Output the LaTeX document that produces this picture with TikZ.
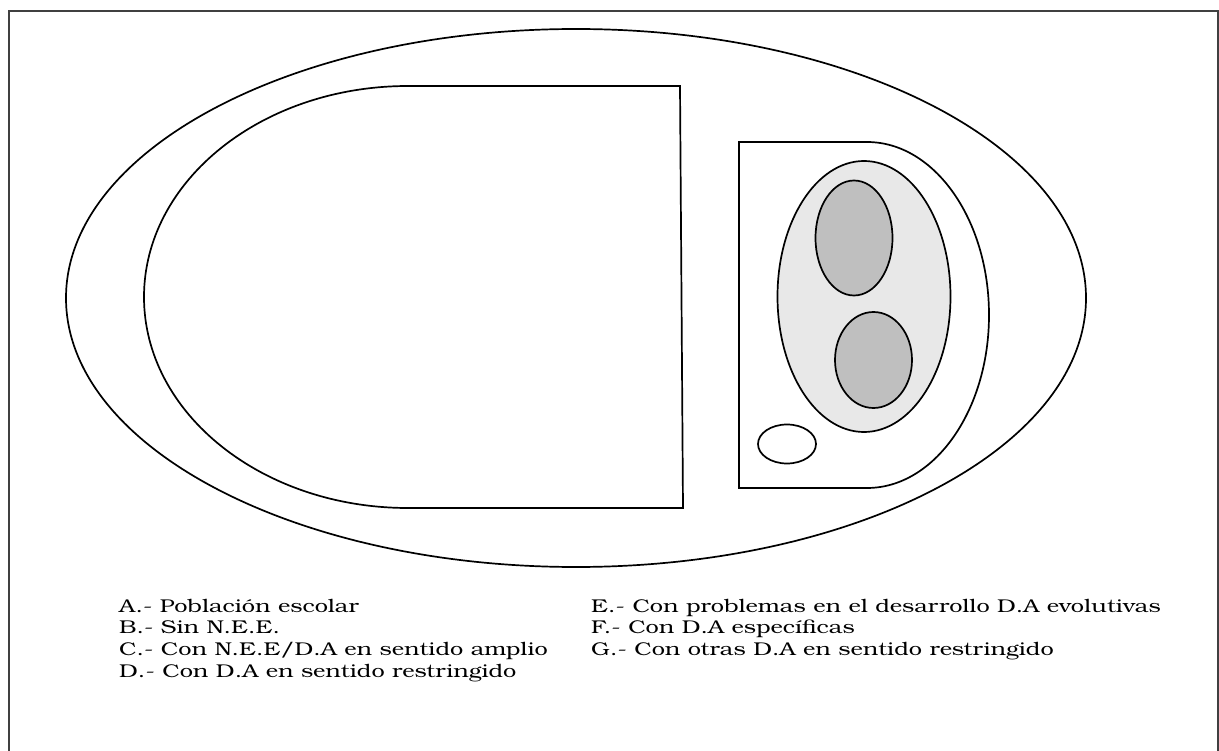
\documentclass[tikz,border=0pt]{standalone}
\usepackage{fontspec}
\setmainfont{texgyrebonum-regular.otf}[FakeStretch=1.27]
\begin{document}
\begin{tikzpicture}[x=1pt,y=-1pt,
  shapeline/.style={draw=black,line width=1.7pt},
  lightfill/.style={fill=black!9},
  darkfill/.style={fill=black!25},
  legend/.style={anchor=base west,inner sep=0pt,font=\fontsize{18.5}{21.7}\selectfont}]
\useasboundingbox (0,0) rectangle (1219,751);
% outer frame (runs off the bottom)
\draw[draw=black!75,line width=1.8pt] (9,770) -- (9,11) -- (1218,11) -- (1218,770);
% A: big ellipse
\draw[shapeline] (576,298) ellipse [x radius=510, y radius=269];
% B: D-shape
\draw[shapeline] (408,86) -- (680,86) -- (683,508) -- (408,508)
  arc[start angle=-270,end angle=-90,x radius=264,y radius=211] -- cycle;
% C: D-shape
\draw[shapeline] (739,142) -- (867,142)
  arc[start angle=-90,end angle=90,x radius=122,y radius=173] -- (739,488) -- cycle;
% D: light ellipse
\draw[shapeline,lightfill] (864,296.5) ellipse [x radius=86.5, y radius=135.5];
% E, F: dark ellipses
\draw[shapeline,darkfill] (854,238) ellipse [x radius=38.5, y radius=57.5];
\draw[shapeline,darkfill] (873.5,360) ellipse [x radius=38.5, y radius=48];
% G: small ellipse
\draw[shapeline,fill=white] (787,444) ellipse [x radius=29, y radius=19.5];
% legend
\node[legend] (la) at (119,612) {A.- Población escolar};
\node[legend] (lb) at (119,633.7) {B.- Sin N.E.E.};
\node[legend] (lc) at (119,655.4) {C.- Con N.E.E/D.A en sentido amplio};
\node[legend] (ld) at (119,677.1) {D.- Con D.A en sentido restringido};
\node[legend] (le) at (591,612) {E.- Con problemas en el desarrollo D.A evolutivas};
\node[legend] (lf) at (591,633.7) {F.- Con D.A específicas};
\node[legend] (lg) at (591,655.4) {G.- Con otras D.A en sentido restringido};
\end{tikzpicture}
\end{document}
